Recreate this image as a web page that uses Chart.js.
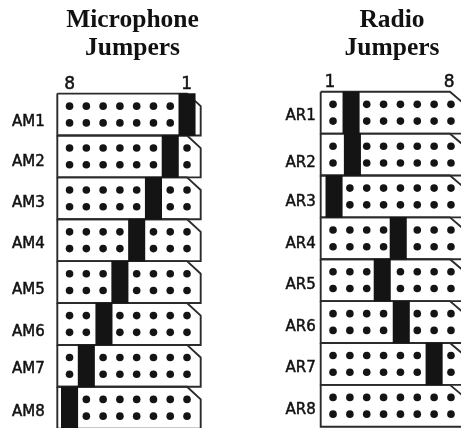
<!DOCTYPE html>
<html>
<head>
<meta charset="utf-8">
<style>
html,body{margin:0;padding:0;width:461px;height:428px;overflow:hidden;background:#fff}
canvas{position:absolute;top:0}
#mic{left:0}
#radio{left:270px}
</style>
<script src="https://cdn.jsdelivr.net/npm/chart.js@4"></script>
</head>
<body>
<canvas id="mic" width="265" height="440"></canvas>
<canvas id="radio" width="244" height="440"></canvas>
<script>
// ---- data ----
const micTitle = ["Microphone", "Jumpers"];
const radioTitle = ["Radio", "Jumpers"];
const micRows = ["AM1","AM2","AM3","AM4","AM5","AM6","AM7","AM8"];
const radioRows = ["AR1","AR2","AR3","AR4","AR5","AR6","AR7","AR8"];
const slots = [1,2,3,4,5,6,7,8];
const micJumper = [1,2,3,4,5,5.95,7,8];
const radioJumper = [2.07,2.15,1.06,4.87,3.92,5.05,7,null];
const micLabelRow = [0.686,1.64,2.61,3.59,4.70,5.70,6.58,7.61];
const radioLabelRow = [0.586,1.71,2.64,3.64,4.61,5.62,6.60,7.61];
const micEndTicks = [8,1.02];
const radioEndTicks = [0.82,7.89];
const endLabels = {mic:["8","1"], radio:["1","8"]};

const INK = "#141414", LINE = "#2b2b2b";

function buildPanel(id, o){
  const rowsIdx = o.rows.map((_,i)=>i);
  const outlines = rowsIdx.map(r=>({
    type:"line", order:2, clip:false, showLine:true, pointRadius:0, fill:false,
    borderColor:LINE, borderWidth:1.9, tension:0,
    data:[
      {x:o.leftEdge,y:r},{x:o.chamferX,y:r},{x:o.rightEdge,y:r+0.3},
      {x:o.rightEdge,y:r+1},{x:o.leftEdge,y:r+1},{x:o.leftEdge,y:r}
    ]
  }));
  const jumpers = {
    type:"bar", order:1, clip:false, backgroundColor:INK, borderWidth:0,
    barThickness:16.4, grouped:false,
    data:rowsIdx.filter(r=>o.jumper[r]!==null).map(r=>({x:o.jumper[r],y:[r,r+1]}))
  };
  const pinData = [];
  rowsIdx.forEach(r=>{
    const taken = o.jumper[r]===null ? null : Math.round(o.jumper[r]);
    slots.forEach(s=>{
      if(s!==taken){ pinData.push({x:s,y:r+0.3}); pinData.push({x:s,y:r+0.7}); }
    });
  });
  const pins = {type:"scatter", order:0, clip:false, data:pinData, pointRadius:3.8,
    pointBackgroundColor:INK, pointBorderWidth:0};
  new Chart(document.getElementById(id),{
    type:"scatter",
    data:{datasets:[pins,jumpers].concat(outlines)},
    options:{
      responsive:false, animation:false, events:[],
      layout:{padding:{left:0,top:0,right:0,bottom:o.padBottom}},
      plugins:{
        legend:{display:false}, tooltip:{enabled:false},
        title:{display:true,text:o.title,color:"#111",
          font:{family:"'Liberation Serif'",weight:"bold",size:25.5,lineHeight:1.1},
          padding:{top:6,bottom:0}}
      },
      scales:{
        x:{type:"linear",position:"top",reverse:o.reverse,offset:false,
          min:o.xMin,max:o.xMax,
          grid:{display:false,drawTicks:false},border:{display:false},
          afterBuildTicks(a){a.ticks=o.endTicks.map(v=>({value:v}));},
          afterFit(a){a.height=o.xAxisH;a.paddingLeft=0;a.paddingRight=0;},
          ticks:{autoSkip:false,maxRotation:0,padding:-1,color:"#111",
            textStrokeColor:"#111",textStrokeWidth:0.5,
            font:{family:"'DejaVu Sans'",size:17},
            callback:(v,i)=>o.endLabels[i]}
        },
        y:{type:"linear",reverse:true,min:0,max:8,
          grid:{display:false,drawTicks:false},border:{display:false},
          afterBuildTicks(a){a.ticks=o.labelRow.map(v=>({value:v}));},
          afterFit(a){a.width=o.yAxisW;a.paddingTop=0;a.paddingBottom=0;},
          ticks:{autoSkip:false,padding:o.labelPad,color:"#111",
            textStrokeColor:"#111",textStrokeWidth:0.5,
            font:{family:"'DejaVu Sans'",size:15},
            callback:(v,i)=>o.rows[i]}
        },
        spacer:{type:"linear",position:"right",display:true,
          grid:{display:false,drawTicks:false},border:{display:false},
          ticks:{display:false},
          afterFit(a){a.width=o.rightGap;a.paddingTop=0;a.paddingBottom=0;}
        }
      }
    }
  });
}

buildPanel("mic",{
  title:micTitle, rows:micRows, jumper:micJumper, labelRow:micLabelRow,
  endTicks:micEndTicks, endLabels:endLabels.mic, reverse:true,
  xMin:0.185, xMax:8.73, leftEdge:8.73, rightEdge:0.185, chamferX:1,
  yAxisW:57.3, labelPad:12.5, xAxisH:31.5, rightGap:64.3, padBottom:11.3
});
buildPanel("radio",{
  title:radioTitle, rows:radioRows, jumper:radioJumper, labelRow:radioLabelRow,
  endTicks:radioEndTicks, endLabels:endLabels.radio, reverse:false,
  xMin:0.268, xMax:8.815, leftEdge:0.268, rightEdge:8.815, chamferX:7.94,
  yAxisW:50.7, labelPad:5, xAxisH:29.7, rightGap:49.3, padBottom:13.3
});
</script>
</body>
</html>
